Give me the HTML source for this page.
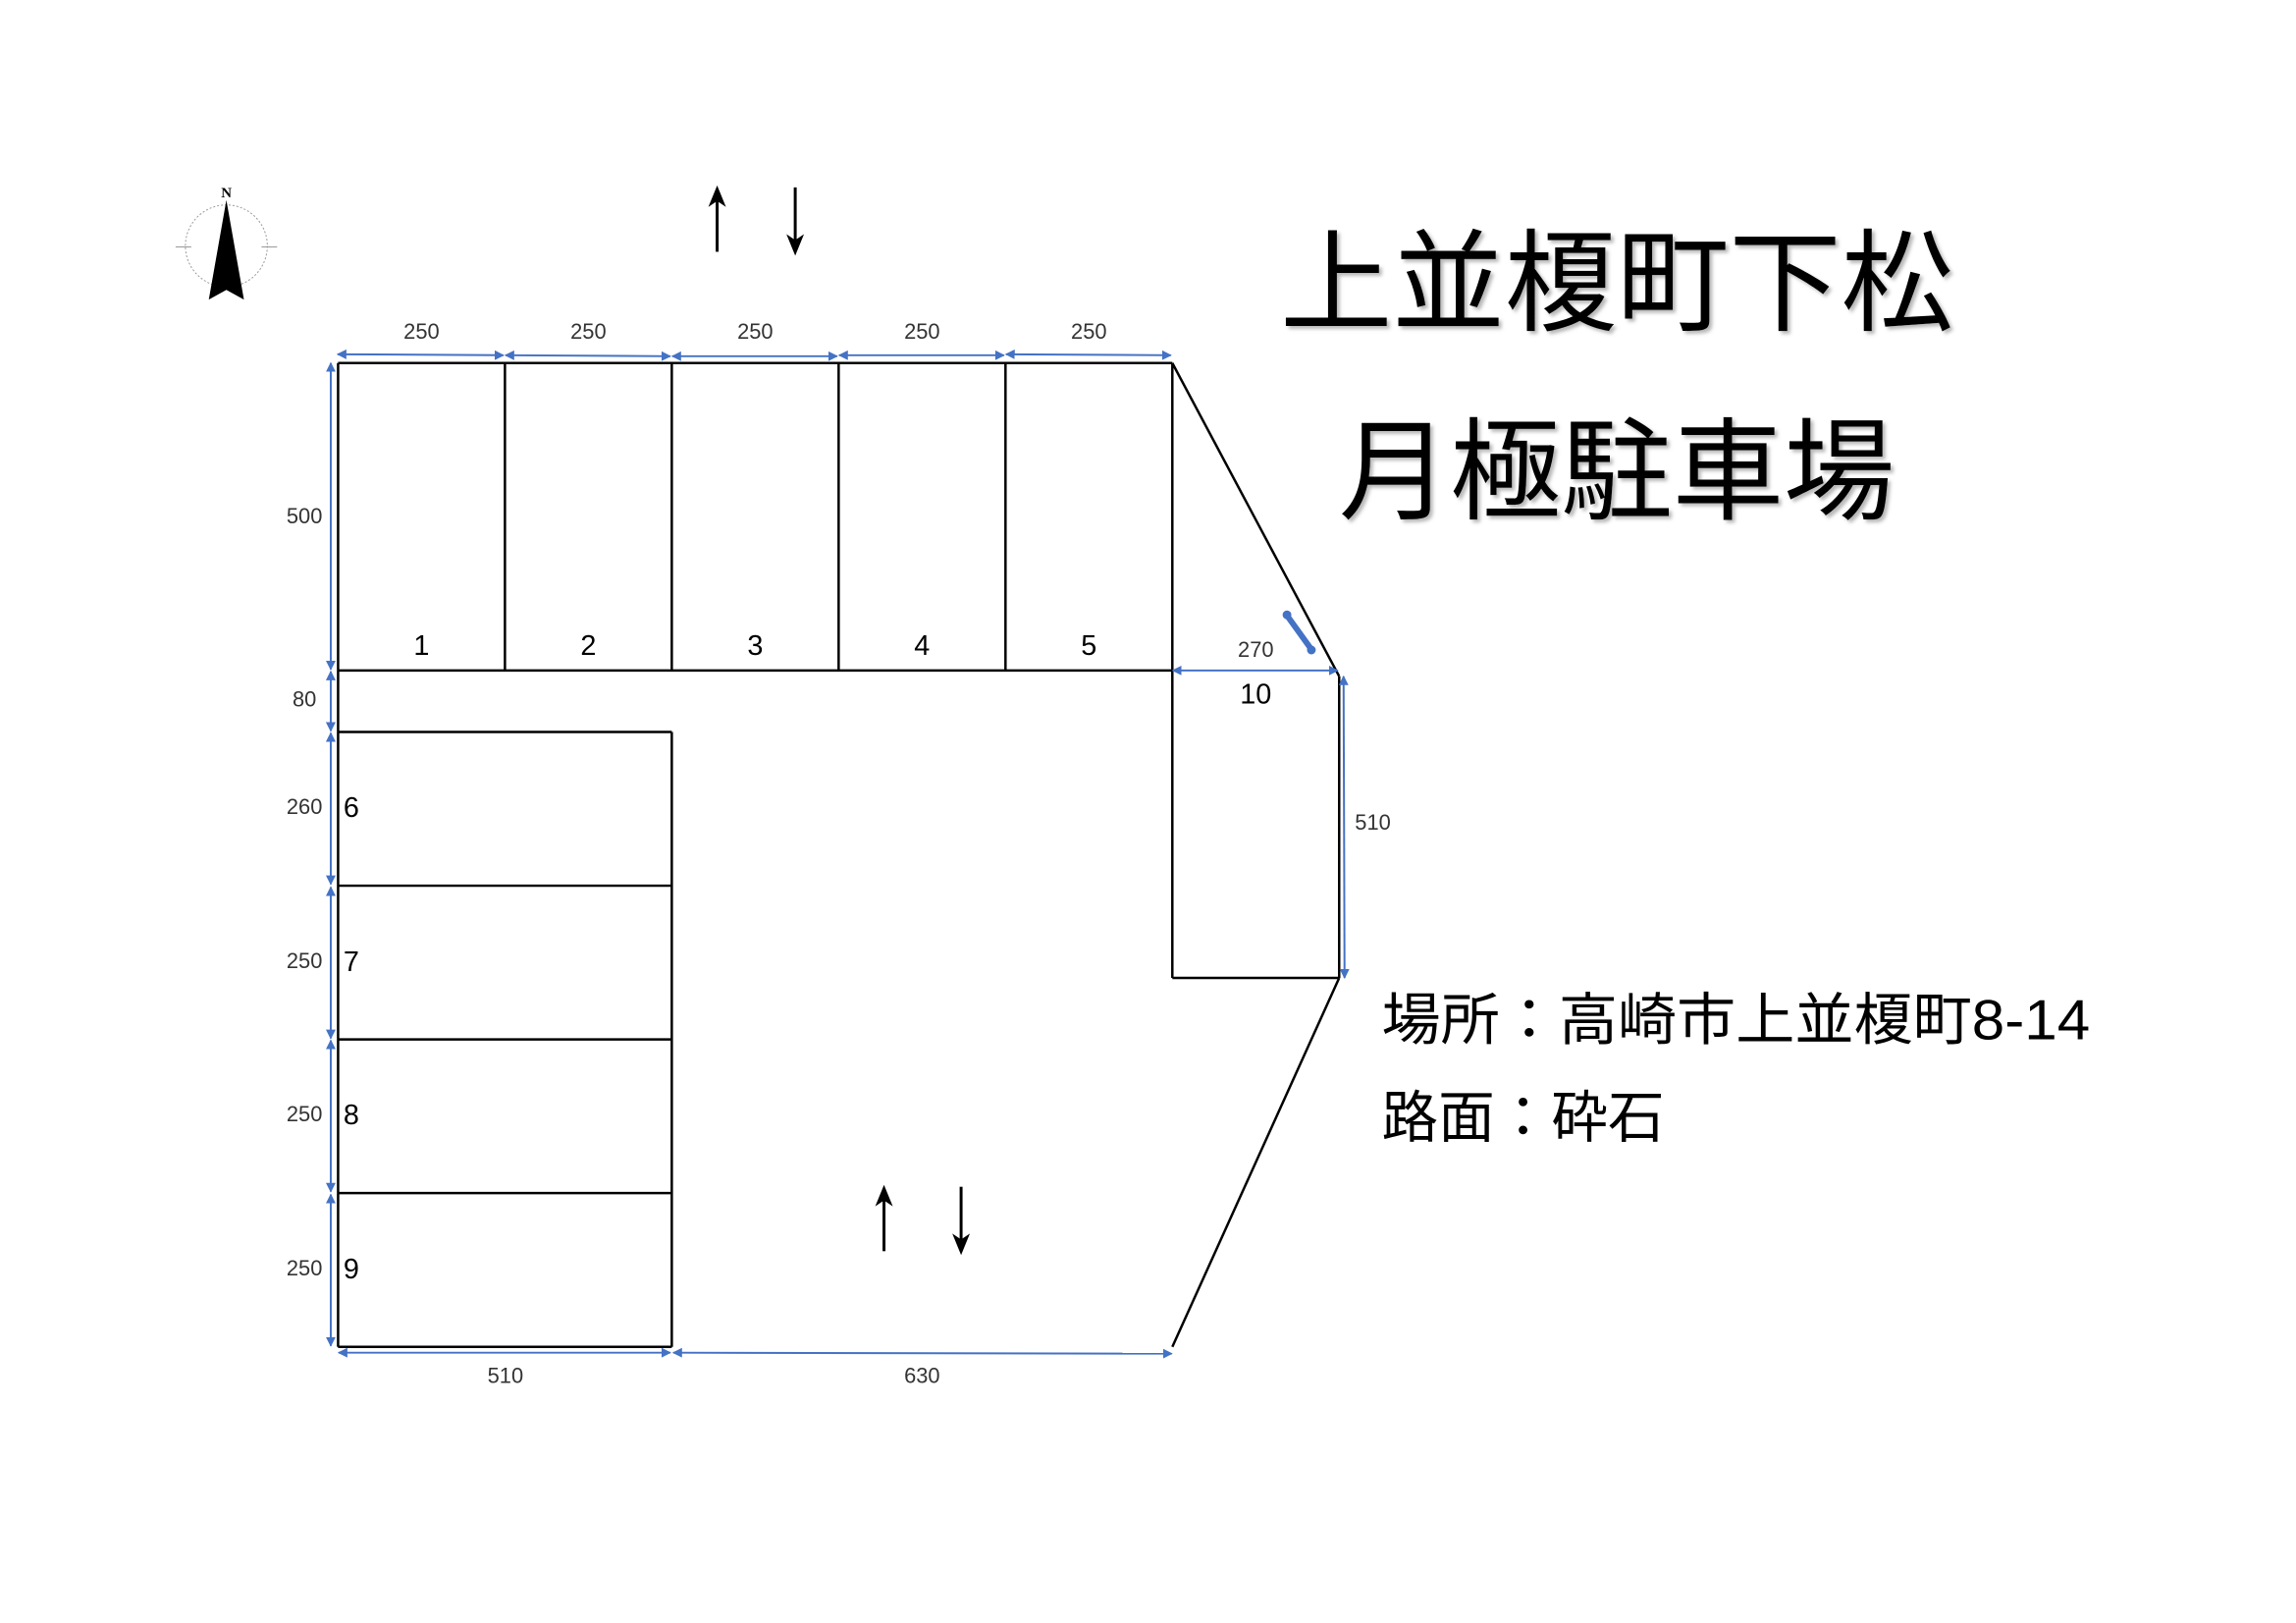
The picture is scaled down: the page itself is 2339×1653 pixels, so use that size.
<!DOCTYPE html>
<html><head><meta charset="utf-8"><style>
html,body{margin:0;padding:0;background:#fff;width:2339px;height:1653px;overflow:hidden}
svg{display:block}
</style></head><body>
<svg width="2339" height="1653" viewBox="0 0 2339 1653" xmlns="http://www.w3.org/2000/svg">
<defs>
<marker id="ab" viewBox="0 0 10 10" refX="9" refY="5" markerWidth="5" markerHeight="5" orient="auto-start-reverse"><path d="M0,0 L10,5 L0,10 z" fill="#4472c4"/></marker>
<filter id="sh"><feDropShadow dx="3" dy="3" stdDeviation="2" flood-color="#888" flood-opacity="0.6"/></filter>
</defs>
<g transform="scale(0.994)">
<g stroke="#000" stroke-width="2.5" fill="none">
<line x1="346.5" y1="372" x2="1201.5" y2="372"/>
<line x1="346.5" y1="372" x2="346.5" y2="1380"/>
<line x1="517.5" y1="372" x2="517.5" y2="687"/>
<line x1="688.5" y1="372" x2="688.5" y2="687"/>
<line x1="859.5" y1="372" x2="859.5" y2="687"/>
<line x1="1030.5" y1="372" x2="1030.5" y2="687"/>
<line x1="1201.5" y1="372" x2="1201.5" y2="1002"/>
<line x1="346.5" y1="687" x2="1201.5" y2="687"/>
<line x1="1201.5" y1="372" x2="1372.5" y2="693"/>
<line x1="346.5" y1="750" x2="688.5" y2="750"/>
<line x1="688.5" y1="750" x2="688.5" y2="1380"/>
<line x1="346.5" y1="907.5" x2="688.5" y2="907.5"/>
<line x1="346.5" y1="1065" x2="688.5" y2="1065"/>
<line x1="346.5" y1="1222.5" x2="688.5" y2="1222.5"/>
<line x1="346.5" y1="1380" x2="688.5" y2="1380"/>
<line x1="1372.5" y1="693" x2="1372.5" y2="1002"/>
<line x1="1201.5" y1="1002" x2="1372.5" y2="1002"/>
<line x1="1372.5" y1="1002" x2="1201.5" y2="1380"/>
</g>
<g stroke="#4472c4" stroke-width="2" marker-start="url(#ab)" marker-end="url(#ab)">
<line x1="346" y1="363" x2="516" y2="364"/>
<line x1="518" y1="364" x2="687" y2="365"/>
<line x1="689" y1="365" x2="858" y2="365"/>
<line x1="860" y1="364" x2="1029" y2="364"/>
<line x1="1031" y1="363" x2="1200" y2="364"/>
<line x1="339" y1="372" x2="339" y2="686"/>
<line x1="339" y1="688" x2="339" y2="749"/>
<line x1="339" y1="751" x2="339" y2="906"/>
<line x1="339" y1="909" x2="339" y2="1064"/>
<line x1="339" y1="1066" x2="339" y2="1221"/>
<line x1="339" y1="1224" x2="339" y2="1379"/>
<line x1="347" y1="1386" x2="687" y2="1386"/>
<line x1="690" y1="1386" x2="1201" y2="1387"/>
<line x1="1202" y1="687" x2="1371" y2="687"/>
<line x1="1377" y1="693" x2="1378" y2="1002"/>
</g>
<line x1="1320" y1="632" x2="1343" y2="664" stroke="#4472c4" stroke-width="6" stroke-linecap="round"/>
<circle cx="1319" cy="630" r="4.5" fill="#4472c4"/><circle cx="1344" cy="666" r="4.5" fill="#4472c4"/>
<g font-family="Liberation Sans, DejaVu Sans, sans-serif" fill="#333" font-size="22" text-anchor="middle">
<text x="432" y="347">250</text><text x="603" y="347">250</text><text x="774" y="347">250</text><text x="945" y="347">250</text><text x="1116" y="347">250</text>
<text x="312" y="536">500</text><text x="312" y="724">80</text>
<text x="312" y="834">260</text><text x="312" y="992">250</text><text x="312" y="1149">250</text><text x="312" y="1307">250</text>
<text x="518" y="1417">510</text><text x="945" y="1417">630</text>
<text x="1287" y="673">270</text><text x="1407" y="850">510</text>
</g>
<g font-family="Liberation Sans, DejaVu Sans, sans-serif" fill="#000" font-size="29">
<g text-anchor="middle">
<text x="432" y="671">1</text><text x="603" y="671">2</text><text x="774" y="671">3</text><text x="945" y="671">4</text><text x="1116" y="671">5</text>
<text x="1287" y="721">10</text></g>
<text x="352" y="837">6</text><text x="352" y="995">7</text><text x="352" y="1152">8</text><text x="352" y="1310">9</text>
</g>
<g stroke="#000" stroke-width="3" fill="none">
<line x1="735" y1="200" x2="735" y2="258"/><line x1="815" y1="192" x2="815" y2="250"/>
<line x1="906" y1="1224" x2="906" y2="1282"/><line x1="985" y1="1216" x2="985" y2="1274"/>
</g>
<g fill="#000">
<path d="M735,190 l-9,22 l9,-6 l9,6 z"/><path d="M815,262 l-9,-22 l9,6 l9,-6 z"/>
<path d="M906,1214 l-9,22 l9,-6 l9,6 z"/><path d="M985,1286 l-9,-22 l9,6 l9,-6 z"/>
</g>
<g>
<circle cx="232" cy="252" r="42" fill="none" stroke="#999" stroke-width="1" stroke-dasharray="2,2"/>
<line x1="180" y1="253" x2="196" y2="253" stroke="#999"/><line x1="268" y1="253" x2="284" y2="253" stroke="#999"/>
<path d="M232,205 L250,307 L232,297 L214,307 z" fill="#000"/>
<text x="232" y="202" font-family="Liberation Serif, serif" font-size="15" font-weight="bold" text-anchor="middle">N</text>
</g>
<g font-family="Liberation Sans, 'Noto Sans CJK JP', sans-serif" fill="#000" filter="url(#sh)">
<text x="1312" y="330" font-size="114" textLength="690" lengthAdjust="spacingAndGlyphs">上並榎町下松</text>
<text x="1372" y="523" font-size="114" textLength="570" lengthAdjust="spacingAndGlyphs">月極駐車場</text>
</g>
<g font-family="Liberation Sans, 'Noto Sans CJK JP', sans-serif" fill="#000" font-size="58">
<text x="1416" y="1065" textLength="726" lengthAdjust="spacingAndGlyphs">場所：高崎市上並榎町8-14</text>
<text x="1416" y="1165">路面：砕石</text>
</g>
</g>
</svg>
</body></html>
